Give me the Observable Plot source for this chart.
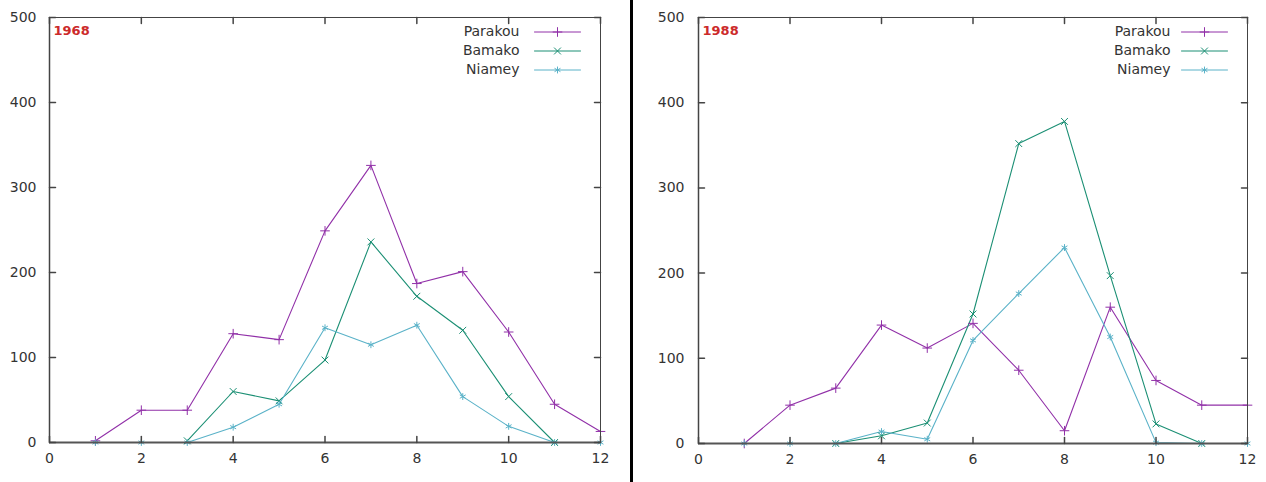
<!DOCTYPE html>
<html>
<head>
<meta charset="utf-8">
<script src="https://cdn.jsdelivr.net/npm/d3@7"></script>
<script src="https://cdn.jsdelivr.net/npm/@observablehq/plot@0.6"></script>
<style>
  html, body { margin: 0; padding: 0; background: #fff; }
  #wrap { display: flex; width: 1266px; height: 482px; }
  #divider { width: 3px; height: 482px; background: #000; }
</style>
</head>
<body>
<div id="wrap"><div id="left"></div><div id="divider"></div><div id="right"></div></div>
<script>
// ---- data ----
const months = [1, 2, 3, 4, 5, 6, 7, 8, 9, 10, 11, 12];
const series = ["Parakou", "Bamako", "Niamey"];
const colors = ["#9130a8", "#1b8f74", "#5ab2c8"];
const symbols = ["plus", "times", "asterisk"];
const years = ["1968", "1988"];

const parakou1968 = [2, 38, 38, 128, 121, 249, 326, 187, 201, 130, 45, 13];
const bamako1968  = [null, null, 2, 60, 49, 97, 236, 172, 132, 54, 0, null];
const niamey1968  = [0, 0, 0, 18, 45, 135, 115, 138, 54, 19, 0, 0];

const parakou1988 = [0, 45, 65, 139, 112, 141, 86, 15, 160, 74, 45, 45];
const bamako1988  = [null, null, 0, 9, 24, 152, 352, 378, 197, 23, 0, null];
const niamey1988  = [0, 0, 0, 14, 5, 121, 176, 230, 125, 1, 0, 0];

const xTicks = [0, 2, 4, 6, 8, 10, 12];
const yTicks = [0, 100, 200, 300, 400, 500];

// ---- helpers ----
function rows(values) {
  const out = [];
  values.forEach((vals, si) => vals.forEach((v, i) => {
    if (v != null) out.push({month: months[i], value: v, city: series[si]});
  }));
  return out;
}
const tickShape = {draw(context, l) { context.moveTo(0, 0); context.lineTo(0, -l); }};
const FONT = "DejaVu Sans, sans-serif";
const BORDER = "#444";

function panel(year, data, opts) {
  const legendMarks = series.flatMap((s, i) => {
    const dy = 14.5 + 19 * i;
    return [
      Plot.text([s], {text: d => d, frameAnchor: "top-right", dx: opts.textDx, dy,
        textAnchor: "end", lineAnchor: "middle", fill: "#333", fontSize: 14}),
      Plot.vector([s], {frameAnchor: "top-right", dx: -43, dy, rotate: 90, length: 46,
        anchor: "middle", shape: tickShape, stroke: d => d, strokeWidth: 1}),
      Plot.dot([s], {frameAnchor: "top-right", dx: -43, dy, symbol: d => d,
        stroke: d => d, r: 3.2, strokeWidth: 1})
    ];
  });
  return Plot.plot({
    width: opts.width, height: 482,
    marginLeft: opts.ml, marginRight: opts.mr, marginTop: 17, marginBottom: opts.mb,
    style: {fontFamily: FONT, fontSize: "14px", background: "#fff"},
    x: {domain: [0, 12]},
    y: {domain: [0, 500]},
    color: {domain: series, range: colors},
    symbol: {domain: series, range: symbols},
    marks: [
      Plot.line(data, {x: "month", y: "value", z: "city", stroke: "city", strokeWidth: 1.1}),
      Plot.dot(data, {x: "month", y: "value", symbol: "city", stroke: "city", r: 3.2, strokeWidth: 1}),
      Plot.frame({stroke: BORDER, strokeWidth: 1}),
      Plot.ruleY([0], {stroke: "#555", strokeWidth: 2}),
      Plot.ruleX([0], {stroke: "#444", strokeWidth: 1.5}),
      Plot.vector(xTicks, {x: d => d, frameAnchor: "bottom", rotate: 0, length: 6, anchor: "start", shape: tickShape, stroke: BORDER}),
      Plot.vector(xTicks, {x: d => d, frameAnchor: "top", rotate: 180, length: 6, anchor: "start", shape: tickShape, stroke: BORDER}),
      Plot.vector(yTicks, {y: d => d, frameAnchor: "left", rotate: 90, length: 6, anchor: "start", shape: tickShape, stroke: BORDER}),
      Plot.vector(yTicks, {y: d => d, frameAnchor: "right", rotate: -90, length: 6, anchor: "start", shape: tickShape, stroke: BORDER}),
      Plot.axisX(xTicks, {tickSize: 0, tickPadding: 11, fontSize: 14, fill: "#333", label: null}),
      Plot.axisY(yTicks, {tickSize: 0, tickPadding: opts.yPad, fontSize: 14, fill: "#333", label: null}),
      Plot.text([year], {text: d => d, frameAnchor: "top-left", dx: 4, dy: 13, lineAnchor: "middle",
        textAnchor: "start", fill: "#cc2a2a", fontWeight: "bold", fontSize: 13}),
      ...legendMarks
    ]
  });
}

document.getElementById("left").append(
  panel(years[0], rows([parakou1968, bamako1968, niamey1968]),
    {width: 630, ml: 49, mr: 30, mb: 40, textDx: -81, yPad: 13}));
document.getElementById("right").append(
  panel(years[1], rows([parakou1988, bamako1988, niamey1988]),
    {width: 633, ml: 65, mr: 19, mb: 39, textDx: -77, yPad: 14}));
</script>
</body>
</html>
